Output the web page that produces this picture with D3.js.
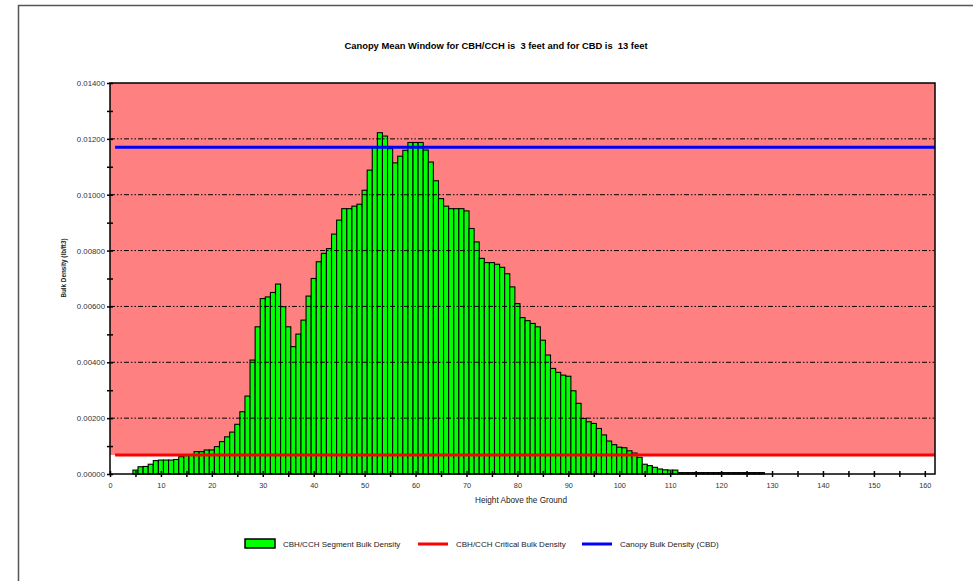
<!DOCTYPE html>
<html>
<head>
<meta charset="utf-8">
<script src="https://cdn.jsdelivr.net/npm/d3@7"></script>
<style>
  body { margin: 0; background: #fff; }
  svg text { font-family: "Liberation Sans", Arial, sans-serif; }
</style>
</head>
<body>
<div id="chart-area"></div>
<script>
// bins are 1 foot wide, first bin at 5 ft
const firstHeight = 5;
const segmentDensity = [
  0.00014, 0.00026, 0.00027, 0.00035, 0.00048, 0.00050, 0.00050, 0.00050, 0.00052, 0.00062,
  0.00066, 0.00068, 0.00080, 0.00080, 0.00086, 0.00086, 0.00098, 0.00116, 0.00133, 0.00150,
  0.00178, 0.00223, 0.00279, 0.00408, 0.00527, 0.00628, 0.00634, 0.00650, 0.00680, 0.00599,
  0.00527, 0.00456, 0.00501, 0.00551, 0.00637, 0.00700, 0.00760, 0.00790, 0.00807, 0.00859,
  0.00909, 0.00950, 0.00950, 0.00959, 0.00966, 0.01016, 0.01088, 0.01172, 0.01222, 0.01210,
  0.01165, 0.01114, 0.01138, 0.01159, 0.01187, 0.01187, 0.01187, 0.01160, 0.01117, 0.01050,
  0.00986, 0.00959, 0.00950, 0.00950, 0.00950, 0.00942, 0.00879, 0.00831, 0.00772, 0.00757,
  0.00757, 0.00751, 0.00740, 0.00717, 0.00670, 0.00610, 0.00560, 0.00549, 0.00539, 0.00527,
  0.00479, 0.00426, 0.00378, 0.00364, 0.00354, 0.00350, 0.00298, 0.00253, 0.00199, 0.00187,
  0.00181, 0.00163, 0.00140, 0.00118, 0.00105, 0.00096, 0.00094, 0.00083, 0.00075, 0.00060,
  0.00035, 0.00030, 0.00024, 0.00018, 0.00015, 0.00014, 0.00014, 0.00005, 0.00005, 0.00005,
  0.00005, 0.00005, 0.00005, 0.00005, 0.00005, 0.00005, 0.00005, 0.00005, 0.00005, 0.00005,
  0.00005, 0.00005, 0.00005, 0.00005
];

const criticalDensity = 0.00068;   // CBH/CCH critical bulk density
const canopyDensity = 0.01170;     // CBD
const lineStart = 1;
const lineEnd = 162;

const xTicks = [0, 10, 20, 30, 40, 50, 60, 70, 80, 90, 100, 110, 120, 130, 140, 150, 160];
const xMinorTicks = [5, 15, 25, 35, 45, 55, 65, 75, 85, 95, 105, 115, 125, 135, 145, 155];
const yTicks = [0, 0.002, 0.004, 0.006, 0.008, 0.010, 0.012, 0.014];
const yTickLabels = ["0.00000", "0.00200", "0.00400", "0.00600", "0.00800", "0.01000", "0.01200", "0.01400"];
const yMinorTicks = [0.001, 0.003, 0.005, 0.007, 0.009, 0.011, 0.013];

const titleText = "Canopy Mean Window for CBH/CCH is  3 feet and for CBD is  13 feet";
const legendLabels = ["CBH/CCH Segment Bulk Density", "CBH/CCH Critical Bulk Density", "Canopy Bulk Density (CBD)"];

const svgWidth = 973, svgHeight = 581;
const plot = {left: 110, right: 935, top: 83, bottom: 474};

var svg = d3.select("#chart-area").append("svg")
            .attr("width", svgWidth)
            .attr("height", svgHeight);

// outer frame
svg.append("rect")
   .attr("x", 18.5).attr("y", 5.5)
   .attr("width", svgWidth).attr("height", svgHeight)
   .attr("fill", "none")
   .attr("stroke", "#555")
   .attr("stroke-width", 1.5);

var xScale = d3.scaleLinear().domain([0, 162]).range([plot.left, plot.right]);
var yScale = d3.scaleLinear().domain([0, 0.014]).range([plot.bottom, plot.top]);

// pink region above the critical density
svg.append("rect")
   .attr("x", plot.left)
   .attr("y", yScale(0.014))
   .attr("width", plot.right - plot.left)
   .attr("height", yScale(criticalDensity) - yScale(0.014))
   .attr("fill", "#ff8080");

// bars
svg.append("g").selectAll("rect")
   .data(segmentDensity)
   .enter().append("rect")
   .attr("x", (d, i) => xScale(firstHeight + i - 0.5))
   .attr("width", (d, i) => xScale(firstHeight + i + 0.5) - xScale(firstHeight + i - 0.5))
   .attr("y", d => yScale(d))
   .attr("height", d => yScale(0) - yScale(d))
   .attr("fill", "#00ff00")
   .attr("stroke", "#000")
   .attr("stroke-width", 1.1);

// dash-dot grid lines
svg.append("g").selectAll("line")
   .data(yTicks.slice(1, -1))
   .enter().append("line")
   .attr("x1", plot.left).attr("x2", plot.right)
   .attr("y1", d => yScale(d)).attr("y2", d => yScale(d))
   .attr("stroke", "#000")
   .attr("stroke-width", 1)
   .attr("stroke-dasharray", "5,2,1.5,2,1.5,2");

// reference lines
svg.append("line")
   .attr("x1", xScale(lineStart)).attr("x2", xScale(lineEnd))
   .attr("y1", yScale(criticalDensity)).attr("y2", yScale(criticalDensity))
   .attr("stroke", "#ff0000").attr("stroke-width", 3);

svg.append("line")
   .attr("x1", xScale(lineStart)).attr("x2", xScale(lineEnd))
   .attr("y1", yScale(canopyDensity)).attr("y2", yScale(canopyDensity))
   .attr("stroke", "#0000ff").attr("stroke-width", 3);

// plot frame
svg.append("rect")
   .attr("x", plot.left).attr("y", plot.top)
   .attr("width", plot.right - plot.left).attr("height", plot.bottom - plot.top)
   .attr("fill", "none").attr("stroke", "#000").attr("stroke-width", 1.5);

// axes
var yAxis = d3.axisLeft(yScale)
              .tickValues(yTicks.concat(yMinorTicks))
              .tickSize(3)
              .tickFormat(d => {
                var k = yTicks.indexOf(d);
                return k >= 0 ? yTickLabels[k] : "";
              });

var xAxis = d3.axisBottom(xScale)
              .tickValues(xTicks.concat(xMinorTicks))
              .tickSize(3)
              .tickFormat(d => xTicks.indexOf(d) >= 0 ? d : "");

var yAxisGroup = svg.append("g")
                    .attr("transform", "translate(" + plot.left + ",0)")
                    .call(yAxis);
yAxisGroup.select(".domain").remove();
yAxisGroup.selectAll("line").attr("x1", 3).attr("stroke-width", 1.5);
yAxisGroup.selectAll("text")
          .attr("x", -5)
          .attr("font-size", 7.8)
          .attr("fill", "#333")
          .style("font-family", "Liberation Sans, Arial, sans-serif");

var xAxisGroup = svg.append("g")
                    .attr("transform", "translate(0," + plot.bottom + ")")
                    .call(xAxis);
xAxisGroup.select(".domain").remove();
xAxisGroup.selectAll("line").attr("y1", -3).attr("stroke-width", 1.5);
xAxisGroup.selectAll("text")
          .attr("y", 9)
          .attr("font-size", 7.3)
          .attr("fill", "#333")
          .style("font-family", "Liberation Sans, Arial, sans-serif");

// titles
svg.append("text")
   .attr("x", 496).attr("y", 49)
   .attr("text-anchor", "middle")
   .attr("font-size", 9.4)
   .attr("font-weight", "bold")
   .style("white-space", "pre")
   .text(titleText);

svg.append("text")
   .attr("x", 521)
   .attr("y", 503)
   .attr("text-anchor", "middle")
   .attr("font-size", 8.2)
   .attr("fill", "#222")
   .text("Height Above the Ground");

svg.append("text")
   .attr("transform", "rotate(-90)")
   .attr("x", -268).attr("y", 66)
   .attr("text-anchor", "middle")
   .attr("font-size", 6.3)
   .attr("font-weight", "bold")
   .attr("fill", "#222")
   .text("Bulk Density (lb/ft3)");

// legend
var legendY = 544;
var legend = svg.append("g");

legend.append("rect")
      .attr("x", 245).attr("y", legendY - 5)
      .attr("width", 30).attr("height", 9)
      .attr("fill", "#00ff00").attr("stroke", "#000").attr("stroke-width", 1.5);

legend.append("line")
      .attr("x1", 418).attr("x2", 448)
      .attr("y1", legendY).attr("y2", legendY)
      .attr("stroke", "#ff0000").attr("stroke-width", 3);

legend.append("line")
      .attr("x1", 582).attr("x2", 612)
      .attr("y1", legendY).attr("y2", legendY)
      .attr("stroke", "#0000ff").attr("stroke-width", 3);

[283, 456, 620].forEach((lx, i) => {
  legend.append("text")
        .attr("x", lx).attr("y", legendY + 3)
        .attr("font-size", 8)
        .attr("fill", "#222")
        .text(legendLabels[i]);
});
</script>
</body>
</html>
